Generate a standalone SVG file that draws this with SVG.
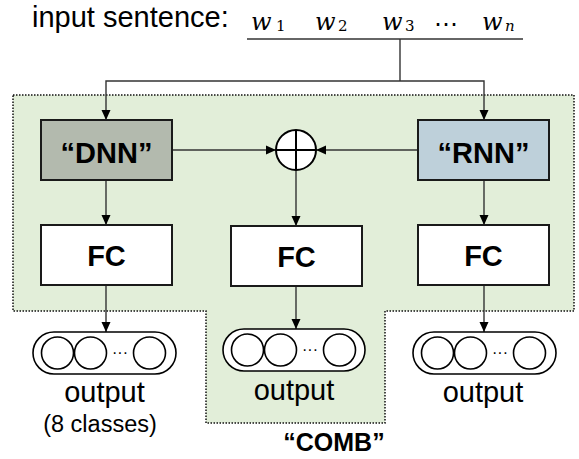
<svg xmlns="http://www.w3.org/2000/svg" width="579" height="459" viewBox="0 0 579 459">
<defs>
<marker id="ah" markerUnits="userSpaceOnUse" markerWidth="10" markerHeight="10" refX="10" refY="5" orient="auto"><path d="M0,0.5 L10,5 L0,9.5 Z" fill="#000"/></marker>
<style>
.t{font-family:"Liberation Sans",Arial,sans-serif;fill:#000}
.c{text-anchor:middle}
.b{font-weight:bold;font-size:29px;text-anchor:middle}
.box{stroke:#1a1a1a;stroke-width:2}
.ln{fill:none;stroke:#333;stroke-width:1.4}
.arr{marker-end:url(#ah)}
.pill{fill:#fff;stroke:#000;stroke-width:1.6}
.m{font-family:"DejaVu Serif","Liberation Serif",serif;font-style:italic;font-size:24px;fill:#000}
.s{font-family:"DejaVu Serif","Liberation Serif",serif;font-size:15px;fill:#000}
.lbl{font-size:29px}
</style>
</defs>
<rect width="579" height="459" fill="#fff"/>
<path id="comb-region" d="M13,95 H574 V311 H385 V423 H206 V311 H13 Z" fill="#e2eed9" stroke="#111" stroke-width="1.5" stroke-dasharray="1.5 1.5"/>

<g id="input">
<text class="t" x="32" y="27" font-size="29">input sentence:</text>
<text class="m" x="251" y="30">w</text><text class="s" x="276" y="31">1</text>
<text class="m" x="315" y="30">w</text><text class="s" x="338" y="31">2</text>
<text class="m" x="382" y="30">w</text><text class="s" x="405" y="31">3</text>
<text x="446" y="32" font-family="'DejaVu Sans',sans-serif" font-size="24" text-anchor="middle">⋯</text>
<text class="m" x="482" y="30">w</text><text class="s" x="505" y="31" font-style="italic">n</text>
</g>

<g id="connectors">
<path class="ln" d="M247,39 H523" stroke="#000"/>
<path class="ln" d="M400,39 V81"/>
<path class="ln arr" d="M400,81 H106 V120"/>
<path class="ln arr" d="M400,81 H484 V120"/>
<path class="ln arr" d="M172,150 H276"/>
<path class="ln arr" d="M418,150 H316"/>
<path class="ln arr" d="M106,180 V225"/>
<path class="ln arr" d="M296,170 V226"/>
<path class="ln arr" d="M484,180 V225"/>
<path class="ln arr" d="M106,285 V332"/>
<path class="ln arr" d="M296,286 V329"/>
<path class="ln arr" d="M484,285 V332"/>
</g>

<g id="dnn">
<rect class="box" x="41" y="120" width="131" height="60" fill="#b3baae"/>
<text class="t b" x="106.5" y="163">“DNN”</text>
</g>
<g id="rnn">
<rect class="box" x="418" y="120" width="131" height="60" fill="#bed0da"/>
<text class="t b" x="483.5" y="163">“RNN”</text>
</g>
<g id="sum">
<circle cx="296" cy="150" r="20" fill="#fff" stroke="#000" stroke-width="2"/>
<path d="M276,150 H316 M296,130 V170" stroke="#000" stroke-width="2"/>
</g>

<g id="fc-left">
<rect class="box" x="41" y="225" width="131" height="60" fill="#fff"/>
<text class="t b" x="106.5" y="266">FC</text>
</g>
<g id="fc-mid">
<rect class="box" x="231" y="226" width="131" height="60" fill="#fff"/>
<text class="t b" x="296.5" y="267">FC</text>
</g>
<g id="fc-right">
<rect class="box" x="418" y="225" width="131" height="60" fill="#fff"/>
<text class="t b" x="483.5" y="266">FC</text>
</g>

<g id="out-left">
<rect class="pill" x="33" y="332" width="143" height="42" rx="21"/>
<circle class="pill" cx="57.5" cy="353" r="16"/>
<circle class="pill" cx="90.5" cy="353" r="16"/>
<circle class="pill" cx="149.5" cy="353" r="16"/>
<text class="t c" x="120" y="357.5" font-size="16">···</text>
<text class="t c lbl" x="104.5" y="401.5">output</text>
<text class="t c" x="100" y="432" font-size="23.5">(8 classes)</text>
</g>
<g id="out-mid">
<rect class="pill" x="223" y="329" width="142" height="42" rx="21"/>
<circle class="pill" cx="247.5" cy="350" r="16"/>
<circle class="pill" cx="280.5" cy="350" r="16"/>
<circle class="pill" cx="339.5" cy="350" r="16"/>
<text class="t c" x="310" y="354.5" font-size="16">···</text>
<text class="t c lbl" x="294" y="400">output</text>
</g>
<g id="out-right">
<rect class="pill" x="413" y="332" width="143" height="42" rx="21"/>
<circle class="pill" cx="437.5" cy="353" r="16"/>
<circle class="pill" cx="470.5" cy="353" r="16"/>
<circle class="pill" cx="529.5" cy="353" r="16"/>
<text class="t c" x="500" y="357.5" font-size="16">···</text>
<text class="t c lbl" x="483" y="401.5">output</text>
</g>

<g id="comb-label">
<text class="t" x="334" y="451" font-size="25" font-weight="bold" text-anchor="middle">“COMB”</text>
</g>
</svg>
